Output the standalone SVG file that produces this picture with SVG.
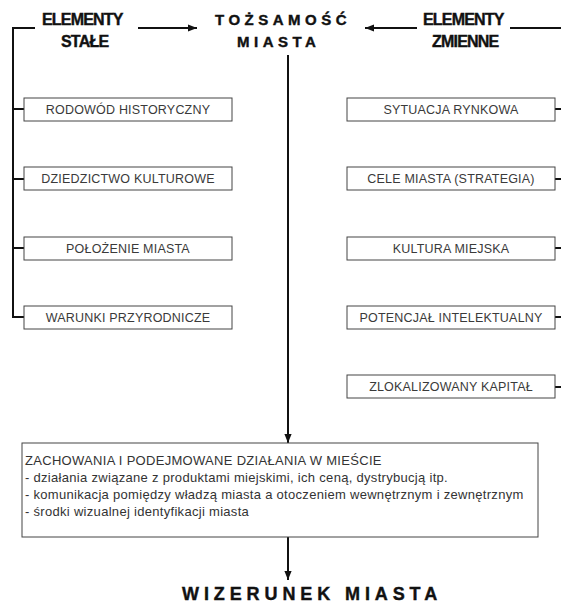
<svg xmlns="http://www.w3.org/2000/svg" width="561" height="603" viewBox="0 0 561 603">
<defs>
<marker id="ah" viewBox="0 0 10 10" refX="10" refY="5" markerWidth="9" markerHeight="9" markerUnits="userSpaceOnUse" orient="auto">
<path d="M0,1 L10,5 L0,9 Z" fill="#111"/>
</marker>
<style>
.box{fill:#fff;stroke:#444;stroke-width:1}
.bt{font-family:"Liberation Sans",Arial,sans-serif;font-size:12.5px;letter-spacing:0.2px;fill:#3a3a3a;text-anchor:middle}
.line{stroke:#111;stroke-width:2;fill:none}
.hd{font-family:"Liberation Sans",Arial,sans-serif;font-weight:bold;fill:#111;stroke:#111;stroke-width:0.4}
.hs{font-size:16px;letter-spacing:-0.8px}
.ti{font-size:15px;letter-spacing:4.5px}
.bx{font-family:"Liberation Sans",Arial,sans-serif;fill:#333;font-size:13px;letter-spacing:0.3px}
</style>
</defs>
<rect width="561" height="603" fill="#fff"/>
<g id="connectors">
<path class="line" d="M35,28 H13 V317 H24"/>
<path class="line" d="M13,109 H24 M13,179 H24 M13,248 H24"/>
<path class="line" d="M138,28 H197" marker-end="url(#ah)"/>
<path class="line" d="M417,28 H365" marker-end="url(#ah)"/>
<path class="line" d="M510,28 H561"/>
<path class="line" d="M555,109 H561 M555,179 H561 M555,248 H561 M555,317 H561 M555,387 H561"/>
<path class="line" d="M288,55 V443" marker-end="url(#ah)"/>
<path class="line" d="M288,537 V580" marker-end="url(#ah)"/>
</g>
<g id="elementy-stale">
<text class="hd hs" x="42" y="25">ELEMENTY</text>
<text class="hd hs" x="61" y="47">STAŁE</text>
</g>
<g id="tozsamosc">
<text class="hd ti" x="215" y="25">TOŻSAMOŚĆ</text>
<text class="hd ti" x="237" y="47">MIASTA</text>
</g>
<g id="elementy-zmienne">
<text class="hd hs" x="423" y="25">ELEMENTY</text>
<text class="hd hs" x="432" y="47">ZMIENNE</text>
</g>
<g id="rodowod"><rect class="box" x="24" y="98" width="208" height="23"/><text class="bt" x="128" y="114">RODOWÓD HISTORYCZNY</text></g>
<g id="dziedzictwo"><rect class="box" x="24" y="167" width="208" height="23"/><text class="bt" x="128" y="183">DZIEDZICTWO KULTUROWE</text></g>
<g id="polozenie"><rect class="box" x="24" y="237" width="208" height="23"/><text class="bt" x="128" y="253">POŁOŻENIE  MIASTA</text></g>
<g id="warunki"><rect class="box" x="24" y="306" width="208" height="23"/><text class="bt" x="128" y="322">WARUNKI  PRZYRODNICZE</text></g>
<g id="sytuacja"><rect class="box" x="347" y="98" width="208" height="23"/><text class="bt" x="451" y="114">SYTUACJA  RYNKOWA</text></g>
<g id="cele"><rect class="box" x="347" y="167" width="208" height="23"/><text class="bt" x="451" y="183">CELE  MIASTA (STRATEGIA)</text></g>
<g id="kultura"><rect class="box" x="347" y="237" width="208" height="23"/><text class="bt" x="451" y="253">KULTURA MIEJSKA</text></g>
<g id="potencjal"><rect class="box" x="347" y="306" width="208" height="23"/><text class="bt" x="451" y="322">POTENCJAŁ INTELEKTUALNY</text></g>
<g id="kapital"><rect class="box" x="347" y="375" width="208" height="23"/><text class="bt" x="451" y="391">ZLOKALIZOWANY  KAPITAŁ</text></g>
<g id="zachowania">
<rect class="box" x="22" y="443" width="516" height="94"/>
<text class="bx" x="25" y="465">ZACHOWANIA  I  PODEJMOWANE  DZIAŁANIA  W  MIEŚCIE</text>
<text class="bx" x="25" y="482">- działania związane z produktami miejskimi, ich ceną, dystrybucją itp.</text>
<text class="bx" x="25" y="499">- komunikacja pomiędzy władzą miasta a otoczeniem wewnętrznym i zewnętrznym</text>
<text class="bx" x="25" y="516">- środki wizualnej identyfikacji miasta</text>
</g>
<g id="wizerunek">
<text class="hd" x="182" y="600" font-size="18" letter-spacing="4.9">WIZERUNEK MIASTA</text>
</g>
</svg>
